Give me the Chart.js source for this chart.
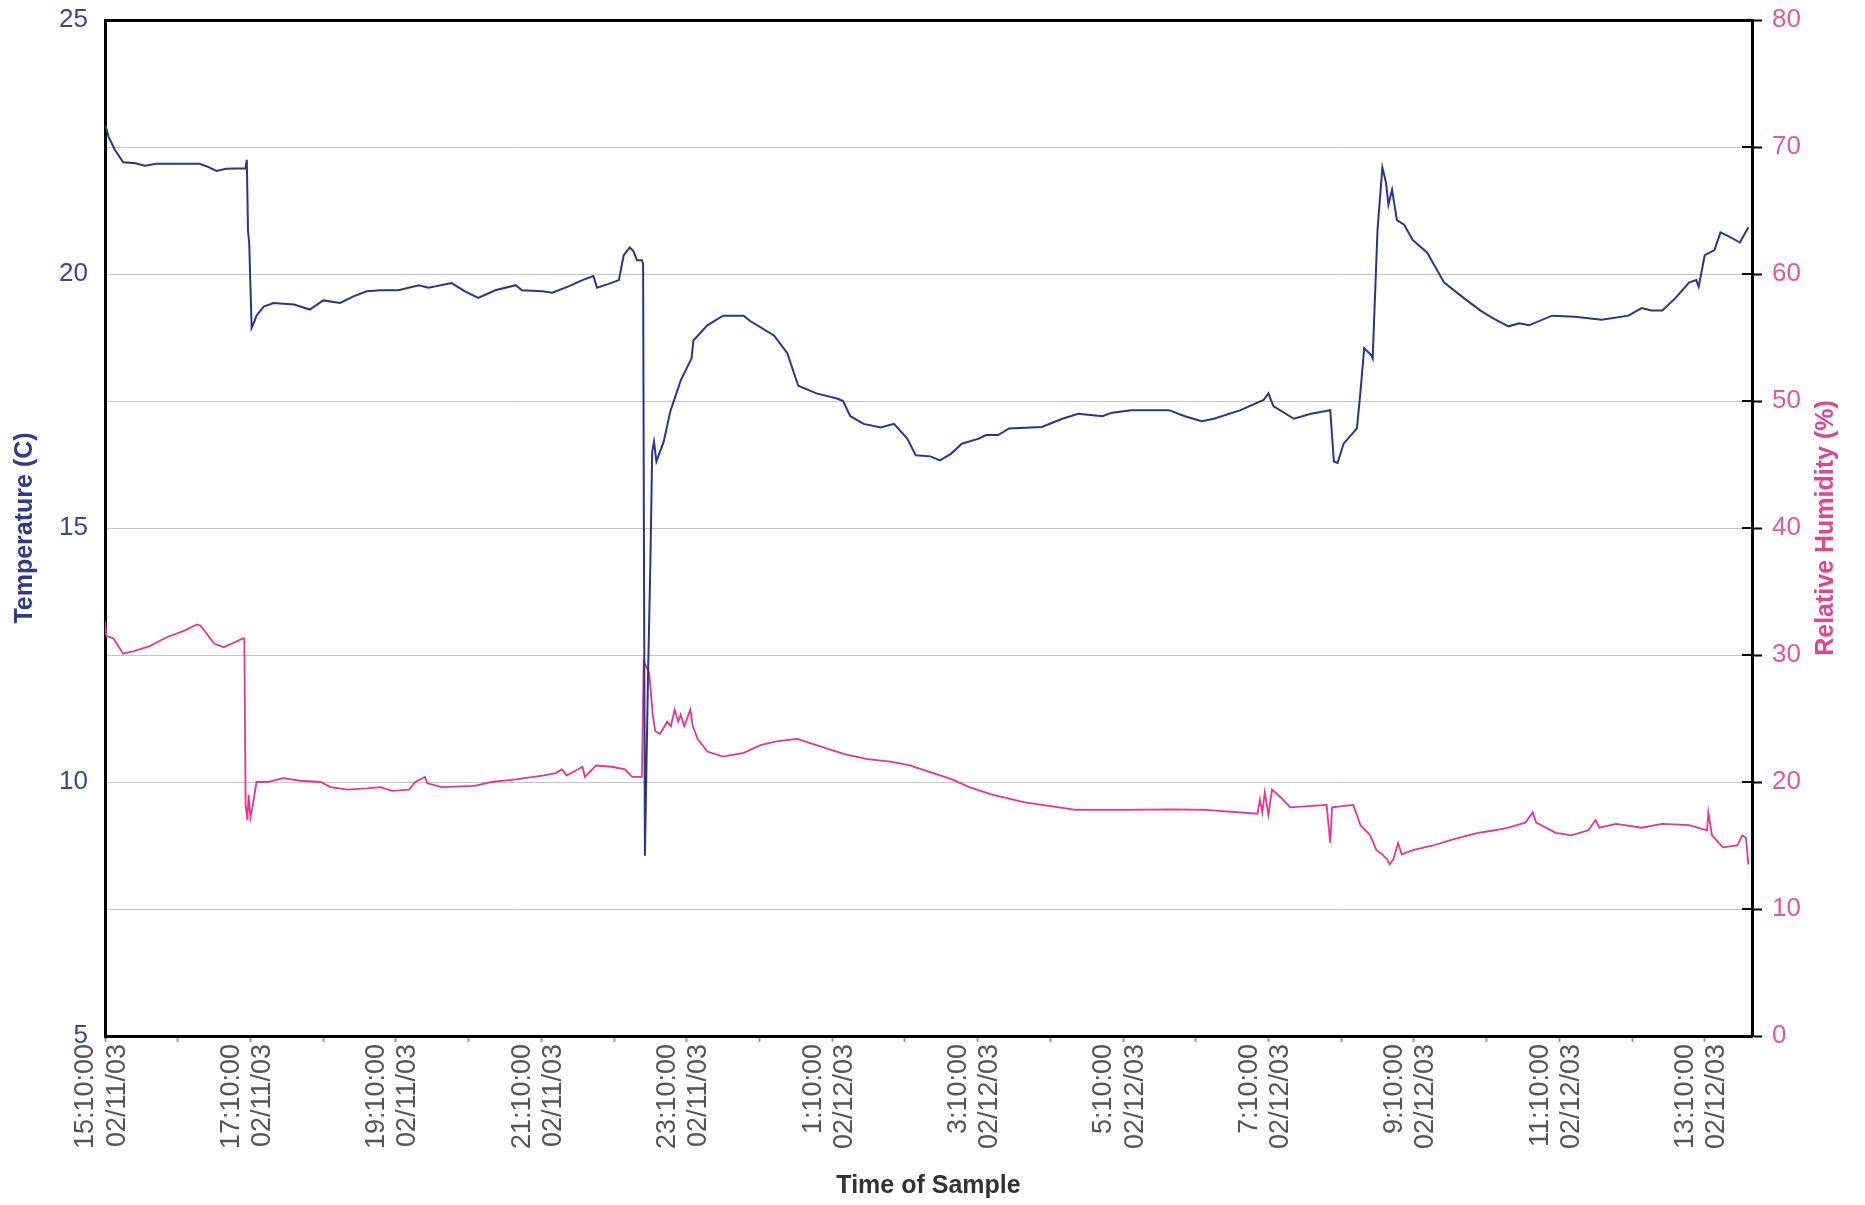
<!DOCTYPE html>
<html>
<head>
<meta charset="utf-8">
<script src="https://cdn.jsdelivr.net/npm/chart.js@4/dist/chart.umd.min.js"></script>
<style>
  html, body { margin: 0; padding: 0; background: #ffffff; }
  #wrap { width: 1865px; height: 1205px; position: relative; }
</style>
</head>
<body>
<div id="wrap"><canvas id="climateChart"></canvas></div>
<script>
// minutes since 15:10:00 02/11/03
const tempMinutes = [0, 3, 8, 15, 25, 33, 42, 60, 78, 86, 92, 100, 116, 117, 118, 119, 121, 123, 125, 131,
  139, 156, 169, 180, 194, 205, 216, 227, 242, 259, 267, 286, 297, 308, 322, 339, 344, 361, 369, 383,
  394, 403, 406, 415, 424, 428, 433, 436, 439, 443, 444, 445.5, 448, 450, 451.5, 453, 455, 461, 466.5, 475,
  484, 485.5, 497, 510, 527, 532, 552, 563, 572, 587, 604, 609, 615, 626, 640, 651, 662, 669, 681, 689,
  698, 707, 721, 727, 737, 746, 773, 790, 803, 823, 831, 847, 878, 891, 905, 915, 937, 956, 960, 964,
  981, 995, 1011, 1014, 1017, 1022, 1033, 1036, 1039, 1045, 1046, 1050, 1054, 1057, 1059, 1062, 1066, 1072, 1079, 1091,
  1105, 1121, 1135, 1145, 1158, 1167, 1175, 1194, 1213, 1235, 1257, 1268, 1276, 1285, 1296, 1307, 1313, 1315, 1320, 1328,
  1333, 1339, 1349, 1356];
const tempValues = [22.95, 22.7, 22.45, 22.2, 22.18, 22.13, 22.17, 22.17, 22.17, 22.1, 22.03, 22.07, 22.08, 22.25, 20.85, 20.6, 18.94, 19.05, 19.18, 19.36,
  19.43, 19.40, 19.30, 19.48, 19.43, 19.56, 19.66, 19.68, 19.68, 19.78, 19.73, 19.82, 19.66, 19.53, 19.68, 19.78, 19.68, 19.66, 19.63, 19.76,
  19.88, 19.96, 19.73, 19.8, 19.88, 20.37, 20.52, 20.45, 20.27, 20.27, 20.2, 8.55, 12.0, 14.3, 16.5, 16.7, 16.31, 16.7, 17.3, 17.9,
  18.34, 18.69, 18.99, 19.18, 19.18, 19.08, 18.79, 18.44, 17.8, 17.65, 17.55, 17.5, 17.2, 17.05, 16.98, 17.05, 16.76, 16.43, 16.41, 16.33,
  16.46, 16.66, 16.76, 16.83, 16.83, 16.96, 16.99, 17.15, 17.25, 17.2, 17.27, 17.32, 17.32, 17.2, 17.1, 17.15, 17.32, 17.52, 17.65, 17.4,
  17.15, 17.25, 17.32, 16.31, 16.28, 16.66, 16.96, 17.7, 18.54, 18.4, 18.34, 20.87, 22.1, 21.8, 21.36, 21.66, 21.06, 20.97, 20.67, 20.42,
  19.83, 19.53, 19.28, 19.13, 18.97, 19.03, 18.99, 19.18, 19.16, 19.1, 19.18, 19.33, 19.28, 19.28, 19.53, 19.83, 19.88, 19.75, 20.37, 20.47,
  20.82, 20.75, 20.62, 20.92];

const humMinutes = [0, 1, 7, 15, 24, 37, 51, 65, 76, 79, 90, 98, 114, 115, 116, 117.5, 118.5, 120, 122, 125,
  134, 147, 161, 178, 186, 200, 216, 227, 237, 251, 256, 264, 266, 278, 305, 319, 339, 361, 372, 377,
  381, 394, 396, 403, 405, 418, 429, 435, 443, 444.5, 447, 449, 452, 454, 458, 464, 467, 470, 473, 475,
  478, 483, 485, 489, 497, 510, 527, 541, 554, 571, 587, 610, 629, 648, 664, 677, 699, 713, 732, 759,
  787, 801, 842, 880, 908, 951, 953, 955, 957, 960, 963, 970, 978, 1008, 1011, 1012.5, 1030, 1036, 1044, 1049,
  1054, 1058, 1060, 1063, 1067, 1070, 1080, 1096, 1113, 1133, 1147, 1158, 1172, 1178, 1181, 1197, 1210, 1224, 1230, 1233,
  1247, 1268, 1285, 1307, 1322, 1323, 1326, 1335, 1347, 1351, 1354, 1356];
const humValues = [32.7, 31.5, 31.3, 30.1, 30.3, 30.7, 31.4, 31.9, 32.4, 32.3, 30.9, 30.6, 31.3, 31.3, 18.2, 17.0, 19.0, 17.2, 18.2, 20.0,
  20.0, 20.3, 20.1, 20.0, 19.6, 19.4, 19.5, 19.6, 19.3, 19.4, 20.0, 20.4, 19.9, 19.6, 19.7, 20.0, 20.2, 20.5, 20.7, 21.0,
  20.5, 21.2, 20.4, 21.1, 21.3, 21.2, 21.0, 20.4, 20.4, 29.5, 29.0, 28.6, 25.3, 24.0, 23.8, 24.75, 24.4, 25.7, 24.75, 25.3,
  24.4, 25.7, 24.4, 23.4, 22.4, 22.0, 22.3, 22.9, 23.2, 23.4, 22.9, 22.2, 21.8, 21.6, 21.3, 20.9, 20.2, 19.6, 19.0, 18.4,
  18.0, 17.8, 17.8, 17.85, 17.8, 17.5, 18.6, 17.6, 19.2, 17.4, 19.4, 18.8, 18.0, 18.2, 15.2, 18.0, 18.2, 16.6, 15.8, 14.65,
  14.3, 13.9, 13.5, 13.9, 15.2, 14.3, 14.65, 15.0, 15.5, 16.0, 16.2, 16.4, 16.8, 17.6, 16.8, 16.0, 15.8, 16.2, 17.0, 16.4,
  16.7, 16.4, 16.7, 16.6, 16.2, 17.6, 15.8, 14.85, 15.0, 15.8, 15.6, 13.5];

const timeLabels = ['15:10:00', '17:10:00', '19:10:00', '21:10:00', '23:10:00', '1:10:00',
  '3:10:00', '5:10:00', '7:10:00', '9:10:00', '11:10:00', '13:10:00'];
const dateLabels = ['02/11/03', '02/11/03', '02/11/03', '02/11/03', '02/11/03', '02/12/03',
  '02/12/03', '02/12/03', '02/12/03', '02/12/03', '02/12/03', '02/12/03'];

const FONT = 'Arial, "Liberation Sans", sans-serif';
const BLUE = '#2e3588';
const PINK = '#e6388a';

// right axis title reads bottom-to-top, and the right ticks cross the axis line
const rightAxisExtras = {
    id: 'rightAxisExtras',
    afterDraw(chart) {
        const s = chart.scales.y1;
        const area = chart.chartArea;
        const ctx = chart.ctx;
        ctx.save();
        ctx.strokeStyle = '#000000';
        ctx.lineWidth = 2;
        s.ticks.forEach(t => {
            const py = s.getPixelForValue(t.value);
            ctx.beginPath();
            ctx.moveTo(area.right - 10, py);
            ctx.lineTo(area.right, py);
            ctx.stroke();
        });
        ctx.translate(s.right - 39, (area.top + area.bottom) / 2);
        ctx.rotate(-Math.PI / 2);
        ctx.font = 'bold 25px ' + FONT;
        ctx.fillStyle = '#e0458f';
        ctx.textAlign = 'center';
        ctx.textBaseline = 'middle';
        ctx.fillText('Relative Humidity (%)', 0, 0);
        ctx.restore();
    }
};

const ctx = document.getElementById('climateChart').getContext('2d');

new Chart(ctx, {
    type: 'line',
    data: {
        datasets: [{
            label: 'Temperature (C)',
            data: tempMinutes.map((m, i) => ({ x: m, y: tempValues[i] })),
            borderColor: BLUE,
            borderWidth: 2,
            pointRadius: 0,
            tension: 0,
            yAxisID: 'y'
        }, {
            label: 'Relative Humidity (%)',
            data: humMinutes.map((m, i) => ({ x: m, y: humValues[i] })),
            borderColor: PINK,
            borderWidth: 1.8,
            pointRadius: 0,
            tension: 0,
            yAxisID: 'y1'
        }]
    },
    options: {
        responsive: true,
        maintainAspectRatio: false,
        animation: false,
        layout: { padding: { top: 20, left: 0, right: 0, bottom: 0 } },
        plugins: {
            legend: { display: false },
            tooltip: { enabled: false }
        },
        scales: {
            x: {
                type: 'linear',
                min: 0,
                max: 1359,
                afterFit: (scale) => { scale.height = 169; scale.paddingLeft = 0; scale.paddingRight = 0; },
                ticks: {
                    stepSize: 60,
                    includeBounds: false,
                    autoSkip: false,
                    minRotation: 90,
                    maxRotation: 90,
                    labelOffset: -19,
                    padding: 2,
                    color: '#555555',
                    font: { family: FONT, size: 27, lineHeight: 1.15 },
                    callback: (value) => {
                        if (value % 120 !== 0) return '';
                        const i = value / 120;
                        return [timeLabels[i], dateLabels[i]];
                    }
                },
                grid: {
                    display: true,
                    drawOnChartArea: false,
                    drawTicks: true,
                    tickLength: 6,
                    tickColor: '#9a9a9a',
                    tickWidth: 2
                },
                border: { display: true, color: '#000000', width: 3 },
                title: {
                    display: true,
                    text: 'Time of Sample',
                    color: '#333333',
                    font: { family: FONT, size: 25, weight: 'bold' },
                    padding: { top: 0, bottom: 4 }
                }
            },
            y: {
                position: 'left',
                min: 5,
                max: 25,
                afterFit: (scale) => { scale.width = 105; scale.paddingTop = 0; scale.paddingBottom = 0; },
                ticks: {
                    stepSize: 5,
                    padding: 17,
                    color: '#3c4495',
                    font: { family: FONT, size: 26 }
                },
                grid: { display: false, drawTicks: false },
                border: { display: true, color: '#000000', width: 3 },
                title: {
                    display: true,
                    text: 'Temperature (C)',
                    color: '#2f3a8f',
                    font: { family: FONT, size: 25, weight: 'bold' },
                    padding: { top: 10, bottom: 0 }
                }
            },
            y1: {
                position: 'right',
                min: 0,
                max: 80,
                afterFit: (scale) => { scale.width = 113; scale.paddingTop = 0; scale.paddingBottom = 0; },
                ticks: {
                    stepSize: 10,
                    padding: 10,
                    color: '#e2589a',
                    font: { family: FONT, size: 26 }
                },
                grid: {
                    display: true,
                    drawOnChartArea: true,
                    drawTicks: true,
                    tickLength: 10,
                    tickColor: '#000000',
                    tickWidth: 2,
                    color: (c) => (c.tick && c.tick.value === 80) ? '#000000' : '#c4c4c4',
                    lineWidth: (c) => (c.tick && c.tick.value === 80) ? 3 : 1
                },
                border: { display: true, color: '#000000', width: 3 },
                title: { display: false }
            }
        }
    },
    plugins: [rightAxisExtras]
});
</script>
</body>
</html>
